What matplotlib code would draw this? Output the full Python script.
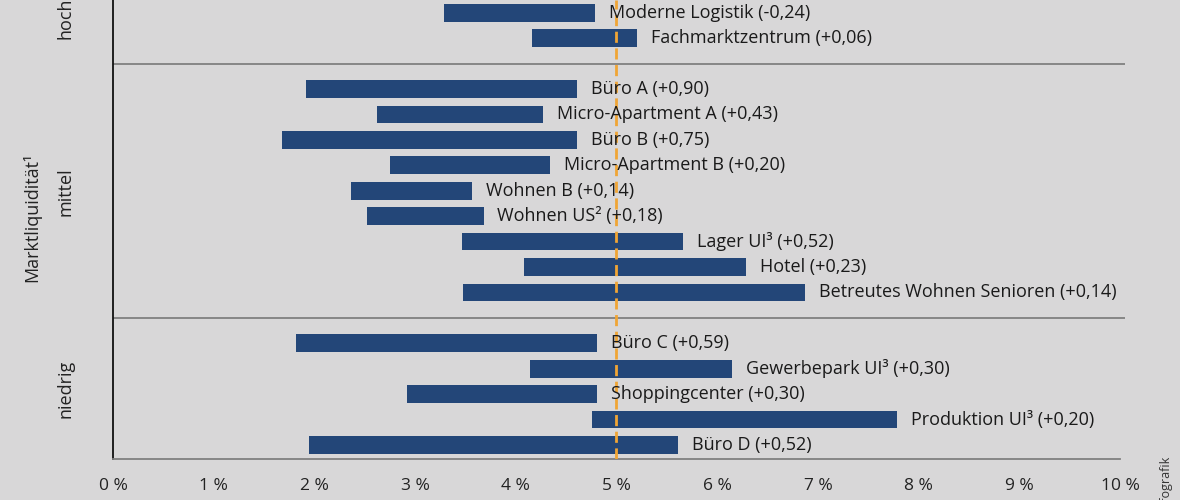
import matplotlib
matplotlib.use("Agg")
import matplotlib.pyplot as plt
from matplotlib.transforms import blended_transform_factory

plt.rcParams['font.family'] = ['Open Sans', 'DejaVu Sans']

# Data
groups = ["hoch", "mittel", "niedrig"]
labels = [
    ["Moderne Logistik (-0,24)", "Fachmarktzentrum (+0,06)"],
    ["Büro A (+0,90)", "Micro-Apartment A (+0,43)", "Büro B (+0,75)",
     "Micro-Apartment B (+0,20)", "Wohnen B (+0,14)", "Wohnen US² (+0,18)",
     "Lager UI³ (+0,52)", "Hotel (+0,23)", "Betreutes Wohnen Senioren (+0,14)"],
    ["Büro C (+0,59)", "Gewerbepark UI³ (+0,30)", "Shoppingcenter (+0,30)",
     "Produktion UI³ (+0,20)", "Büro D (+0,52)"],
]
lows = [
    [3.29, 4.16],
    [1.92, 2.62, 1.68, 2.75, 2.36, 2.52, 3.47, 4.08, 3.48],
    [1.82, 4.14, 2.92, 4.76, 1.95],
]
highs = [
    [4.79, 5.20],
    [4.61, 4.27, 4.61, 4.34, 3.57, 3.68, 5.66, 6.29, 6.87],
    [4.81, 6.15, 4.81, 7.79, 5.61],
]
ref_line = 5.0
xticks = list(range(0, 11))
xticklabels = [f"{v} %" for v in xticks]

bg = "#d8d7d8"
bar_color = "#234678"

fig = plt.figure(figsize=(11.8, 5.0), dpi=100, facecolor=bg)
ax = fig.add_axes([113/1180, 41/500, 1012/1180, 459/500])
ax.set_facecolor(bg)

row = 0
seps = []
for gi, g in enumerate(groups):
    for li, lab in enumerate(labels[gi]):
        y = row + gi + 0.5
        lo, hi = lows[gi][li], highs[gi][li]
        ax.barh(y, hi - lo, left=lo, height=0.7, color=bar_color, zorder=2)
        ax.annotate(lab, xy=(hi, y), xytext=(10, 0), textcoords="offset points",
                    va="center", ha="left", fontsize=13, color="#1a1a1a", zorder=4)
        row += 1
    end = row + gi + 0.5
    if gi < len(groups) - 1:
        seps.append(end)

for s in seps:
    ax.axhline(s, color="#808080", lw=1.3, zorder=1)

ax.axvline(ref_line, color="#f0a535", lw=2, ls=(0, (4, 2)), zorder=3)

ax.set_xlim(0, 10.05)
ax.set_ylim(18.05, 0)
ax.set_xticks(xticks)
ax.set_xticklabels(xticklabels, fontsize=12.5, color="#222222")
ax.set_yticks([])
ax.tick_params(axis="x", length=0, pad=14)
for sp in ["top", "right"]:
    ax.spines[sp].set_visible(False)
ax.spines["left"].set_color("#111111")
ax.spines["left"].set_linewidth(1.3)
ax.spines["bottom"].set_color("#808080")
ax.spines["bottom"].set_linewidth(1.3)
ax.spines["bottom"].set_bounds(0, 10.0)

trans = blended_transform_factory(fig.transFigure, ax.transData)
label_centers = [0.7, 7.52, 15.3]
for g, yc in zip(groups, label_centers):
    ax.text(66/1180, yc, g, transform=trans, rotation=90, ha="center", va="center",
            fontsize=13, color="#222222", clip_on=False)
ax.text(32/1180, 8.54, "Marktliquidität¹", transform=trans, rotation=90,
        ha="center", va="center", fontsize=13, color="#222222", clip_on=False)

fig.text(1165/1180, 1 - 455/500, "Infografik", rotation=90, ha="center", va="top",
         fontsize=9, color="#333333")

fig.savefig("out.png", dpi=100, facecolor=bg)
